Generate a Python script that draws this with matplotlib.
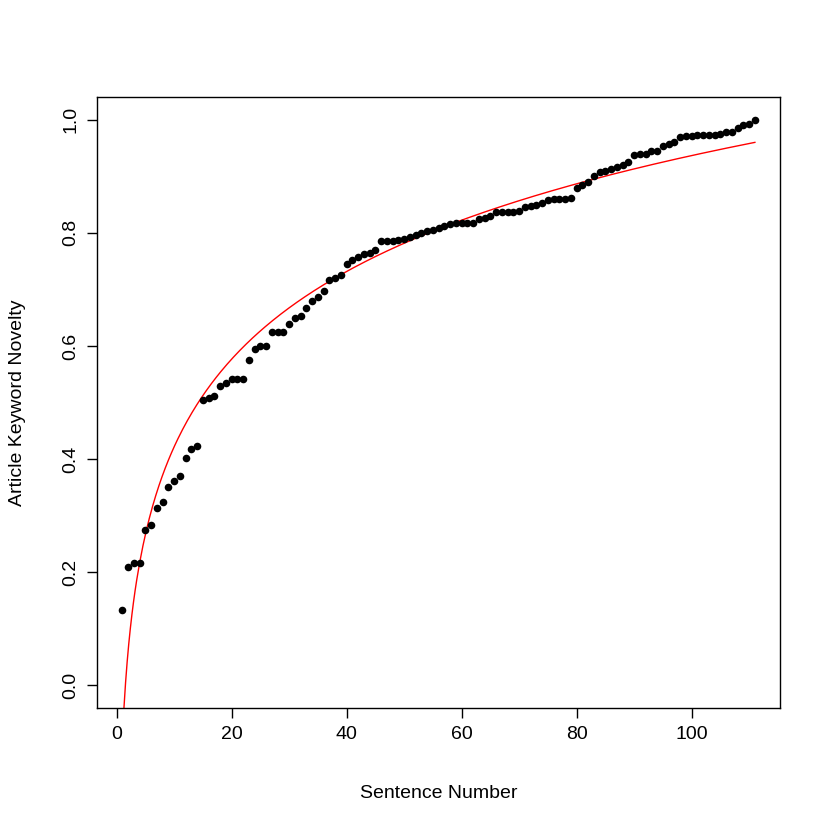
import numpy as np
import matplotlib
matplotlib.use("Agg")
import matplotlib.pyplot as plt

plt.rcParams['font.family'] = ['Liberation Sans', 'DejaVu Sans']

# novelty value for each sentence
novelty = [0.133, 0.210, 0.217, 0.217, 0.275, 0.283, 0.313, 0.325, 0.350, 0.362,
           0.370, 0.402, 0.418, 0.423, 0.505, 0.508, 0.512, 0.530, 0.535, 0.542,
           0.542, 0.542, 0.575, 0.595, 0.600, 0.600, 0.625, 0.625, 0.625, 0.638,
           0.650, 0.653, 0.668, 0.680, 0.687, 0.698, 0.717, 0.720, 0.725, 0.745,
           0.752, 0.757, 0.762, 0.765, 0.770, 0.785, 0.785, 0.785, 0.787, 0.790,
           0.792, 0.797, 0.800, 0.803, 0.805, 0.808, 0.812, 0.815, 0.817, 0.817,
           0.817, 0.818, 0.825, 0.827, 0.830, 0.837, 0.837, 0.837, 0.837, 0.838,
           0.845, 0.847, 0.850, 0.853, 0.858, 0.860, 0.860, 0.860, 0.862, 0.880,
           0.885, 0.890, 0.900, 0.908, 0.910, 0.913, 0.917, 0.920, 0.925, 0.937,
           0.940, 0.940, 0.945, 0.945, 0.953, 0.957, 0.960, 0.970, 0.972, 0.972,
           0.973, 0.973, 0.973, 0.973, 0.975, 0.978, 0.978, 0.985, 0.990, 0.993,
           1.000]
sentence = np.arange(1, len(novelty) + 1)

# log fit, like lm(y ~ log(x))
b, a = np.polyfit(np.log(sentence), novelty, 1)
xs = np.linspace(1, sentence.max(), 400)
fit = a + b * np.log(xs)

fig = plt.figure(figsize=(8.3, 8.3), dpi=100)
ax = fig.add_axes([0.117, 0.147, 0.823, 0.736])

ax.plot(xs, fit, color='red', lw=1.0, zorder=1)
ax.scatter(sentence, novelty, s=30, color='black', zorder=2, linewidths=0)

ax.set_xlim(1 - 0.04 * 110, 111 + 0.04 * 110)
ax.set_ylim(-0.04, 1.04)
ax.set_xticks([0, 20, 40, 60, 80, 100])
ax.set_yticks([0.0, 0.2, 0.4, 0.6, 0.8, 1.0])
ax.set_yticklabels(['0.0', '0.2', '0.4', '0.6', '0.8', '1.0'], rotation=90, va='center')
ax.tick_params(direction='out', length=7, width=1, labelsize=14, pad=6)
for s in ax.spines.values():
    s.set_linewidth(1)

ax.set_xlabel('Sentence Number', fontsize=14, labelpad=30)
ax.set_ylabel('Article Keyword Novelty', fontsize=14, labelpad=26)

fig.savefig('out.png', dpi=100)
